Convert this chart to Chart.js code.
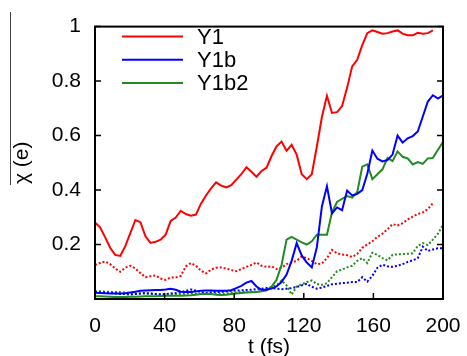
<!DOCTYPE html>
<html>
<head>
<meta charset="utf-8">
<script src="https://cdn.jsdelivr.net/npm/chart.js@4.4.0/dist/chart.umd.min.js"></script>
<style>
  html, body { margin: 0; padding: 0; background: #fff; }
</style>
</head>
<body>
<canvas id="chi" width="467" height="356"></canvas>
<script>
// time axis (fs)
const times = [0, 2.9, 5.8, 8.7, 11.6, 14.5, 17.4, 20.3, 23.2, 26.1,
  29.0, 31.9, 34.8, 37.7, 40.6, 43.5, 46.4, 49.3, 52.2, 55.1,
  58.0, 60.9, 63.8, 66.7, 69.6, 72.5, 75.4, 78.3, 81.2, 84.1,
  87.0, 89.9, 92.8, 95.7, 98.6, 101.4, 104.3, 107.2, 110.1, 113.0,
  115.9, 118.8, 121.7, 124.6, 127.5, 130.4, 133.3, 136.2, 139.1, 142.0,
  144.9, 147.8, 150.7, 153.6, 156.5, 159.4, 162.3, 165.2, 168.1, 171.0,
  173.9, 176.8, 179.7, 182.6, 185.5, 188.4, 191.3, 194.2, 197.1, 200.0];

// solid lines
const y1 = [0.281, 0.263, 0.227, 0.188, 0.162, 0.158, 0.194, 0.242, 0.290, 0.282,
  0.230, 0.206, 0.210, 0.218, 0.236, 0.287, 0.299, 0.324, 0.312, 0.306,
  0.310, 0.350, 0.380, 0.406, 0.428, 0.416, 0.410, 0.418, 0.438, 0.458,
  0.484, 0.467, 0.449, 0.470, 0.482, 0.524, 0.560, 0.578, 0.544, 0.566,
  0.530, 0.458, 0.440, 0.458, 0.560, 0.668, 0.746, 0.683, 0.686, 0.708,
  0.776, 0.854, 0.878, 0.932, 0.976, 0.986, 0.980, 0.974, 0.976, 0.982,
  0.986, 0.974, 0.968, 0.968, 0.977, 0.974, 0.976, 0.986];
const y1b = [0.023, 0.022, 0.021, 0.020, 0.020, 0.020, 0.021, 0.024, 0.027, 0.030,
  0.031, 0.032, 0.033, 0.033, 0.035, 0.038, 0.034, 0.027, 0.026, 0.026,
  0.028, 0.030, 0.031, 0.031, 0.030, 0.030, 0.030, 0.032, 0.040, 0.048,
  0.060, 0.066, 0.046, 0.034, 0.034, 0.038, 0.046, 0.062, 0.090, 0.140,
  0.205, 0.160, 0.134, 0.116, 0.190, 0.340, 0.414, 0.314, 0.336, 0.326,
  0.398, 0.380, 0.386, 0.400, 0.460, 0.545, 0.515, 0.505, 0.510, 0.530,
  0.600, 0.574, 0.590, 0.598, 0.615, 0.670, 0.725, 0.748, 0.736, 0.748];
const y1b2 = [0.010, 0.010, 0.009, 0.008, 0.007, 0.007, 0.007, 0.008, 0.008, 0.009,
  0.010, 0.010, 0.010, 0.011, 0.012, 0.012, 0.012, 0.012, 0.013, 0.014,
  0.016, 0.018, 0.019, 0.018, 0.016, 0.015, 0.016, 0.018, 0.020, 0.022,
  0.024, 0.025, 0.026, 0.028, 0.032, 0.045, 0.070, 0.125, 0.218, 0.228,
  0.218, 0.208, 0.200, 0.212, 0.236, 0.236, 0.236, 0.318, 0.356, 0.368,
  0.378, 0.372, 0.392, 0.486, 0.494, 0.440, 0.458, 0.476, 0.518, 0.506,
  0.542, 0.522, 0.516, 0.494, 0.503, 0.496, 0.516, 0.518, 0.548, 0.576];

// dotted lines
const y1Dot = [0.125, 0.132, 0.138, 0.128, 0.112, 0.100, 0.115, 0.122, 0.112, 0.095,
  0.080, 0.084, 0.086, 0.075, 0.070, 0.079, 0.079, 0.085, 0.120, 0.132,
  0.122, 0.104, 0.094, 0.108, 0.115, 0.116, 0.112, 0.106, 0.102, 0.110,
  0.118, 0.125, 0.134, 0.122, 0.118, 0.120, 0.110, 0.115, 0.128, 0.134,
  0.140, 0.156, 0.150, 0.140, 0.128, 0.130, 0.150, 0.180, 0.168, 0.163,
  0.161, 0.154, 0.165, 0.188, 0.200, 0.212, 0.228, 0.240, 0.256, 0.275,
  0.270, 0.278, 0.292, 0.302, 0.312, 0.318, 0.330, 0.352];
const y1bDot = [0.025, 0.025, 0.024, 0.022, 0.020, 0.018, 0.018, 0.016, 0.018, 0.020,
  0.022, 0.020, 0.018, 0.016, 0.018, 0.020, 0.022, 0.025, 0.030, 0.035,
  0.030, 0.025, 0.022, 0.025, 0.026, 0.026, 0.028, 0.030, 0.031, 0.032,
  0.033, 0.034, 0.036, 0.038, 0.040, 0.040, 0.038, 0.036, 0.038, 0.040,
  0.044, 0.050, 0.056, 0.045, 0.038, 0.042, 0.048, 0.054, 0.056, 0.058,
  0.060, 0.062, 0.062, 0.080, 0.064, 0.085, 0.115, 0.126, 0.120, 0.118,
  0.122, 0.128, 0.136, 0.142, 0.150, 0.192, 0.176, 0.182, 0.186, 0.186];
const y1b2Dot = [0.028, 0.028, 0.027, 0.026, 0.026, 0.025, 0.024, 0.022, 0.020, 0.020,
  0.020, 0.019, 0.018, 0.018, 0.018, 0.017, 0.017, 0.018, 0.020, 0.022,
  0.020, 0.018, 0.018, 0.018, 0.018, 0.019, 0.020, 0.022, 0.024, 0.026,
  0.026, 0.026, 0.027, 0.030, 0.035, 0.045, 0.050, 0.068, 0.050, 0.016,
  0.046, 0.054, 0.062, 0.068, 0.055, 0.052, 0.058, 0.080, 0.102, 0.108,
  0.116, 0.122, 0.140, 0.150, 0.132, 0.170, 0.162, 0.150, 0.142, 0.162,
  0.164, 0.165, 0.166, 0.168, 0.195, 0.205, 0.198, 0.218, 0.240, 0.272];

const xTicks = [0, 40, 80, 120, 160, 200];
const yTicks = [0, 0.2, 0.4, 0.6, 0.8, 1];

const RED = '#ff0000', BLUE = '#0000ff', GREEN = '#228b22';
const FONT = 'Liberation Sans, Arial, sans-serif';

function pts(vals) {
  return vals.map((v, i) => ({ x: times[i], y: v }));
}

function line(label, vals, color, dotted) {
  return {
    label: label,
    data: pts(vals),
    borderColor: color,
    borderWidth: 2,
    borderDash: dotted ? [2, 2] : [],
    pointRadius: 0,
    fill: false,
    tension: 0
  };
}

// frame, inward ticks, axis titles and legend
const decor = {
  id: 'decor',
  afterDraw(chart) {
    const { ctx, chartArea: a, scales: { x, y } } = chart;
    ctx.save();
    ctx.strokeStyle = '#000';
    ctx.lineWidth = 1.5;
    ctx.beginPath();
    yTicks.forEach(v => {
      const py = y.getPixelForValue(v);
      ctx.moveTo(a.left, py); ctx.lineTo(a.left + 6, py);
      ctx.moveTo(a.right, py); ctx.lineTo(a.right - 6, py);
    });
    xTicks.forEach(v => {
      const px = x.getPixelForValue(v);
      ctx.moveTo(px, a.bottom); ctx.lineTo(px, a.bottom - 6);
    });
    ctx.stroke();
    ctx.lineWidth = 2;
    ctx.strokeRect(a.left, a.top, a.right - a.left, a.bottom - a.top);

    ctx.fillStyle = '#000';
    ctx.textAlign = 'center';
    ctx.textBaseline = 'middle';
    ctx.font = '21px ' + FONT;
    ctx.fillText('t (fs)', (a.left + a.right) / 2, 347);

    // y title with its overbar
    ctx.save();
    ctx.translate(22, (a.top + a.bottom) / 2);
    ctx.rotate(-Math.PI / 2);
    ctx.fillText('\u03c7 (e)', 0, 0);
    ctx.restore();
    ctx.strokeStyle = '#444';
    ctx.lineWidth = 1;
    ctx.beginPath();
    ctx.moveTo(10.5, 12);
    ctx.lineTo(10.5, 185);
    ctx.stroke();

    // legend (solid series only)
    ctx.textAlign = 'left';
    ctx.font = '22px ' + FONT;
    chart.data.datasets.slice(0, 3).forEach((ds, i) => {
      const ly = 36.5 + i * 23.3;
      ctx.strokeStyle = ds.borderColor;
      ctx.lineWidth = 2;
      ctx.beginPath();
      ctx.moveTo(122, ly);
      ctx.lineTo(183, ly);
      ctx.stroke();
      ctx.fillText(ds.label, 197, ly + 1);
    });
    ctx.restore();
  }
};

Chart.defaults.color = '#000';
Chart.defaults.font.family = FONT;

new Chart(document.getElementById('chi'), {
  type: 'line',
  data: {
    datasets: [
      line('Y1', y1, RED, false),
      line('Y1b', y1b, BLUE, false),
      line('Y1b2', y1b2, GREEN, false),
      line('Y1 dotted', y1Dot, RED, true),
      line('Y1b dotted', y1bDot, BLUE, true),
      line('Y1b2 dotted', y1b2Dot, GREEN, true)
    ]
  },
  options: {
    responsive: false,
    animation: false,
    layout: { padding: { left: 0, right: 24, top: 21, bottom: 0 } },
    plugins: {
      legend: { display: false },
      tooltip: { enabled: false }
    },
    scales: {
      x: {
        type: 'linear',
        min: 0,
        max: 200,
        afterFit: s => { s.height = 57; s.paddingLeft = 0; s.paddingRight = 0; },
        afterBuildTicks: s => { s.ticks = xTicks.map(v => ({ value: v })); },
        grid: { display: false, drawTicks: false },
        border: { display: false },
        ticks: { font: { size: 21 }, padding: 15, maxRotation: 0 }
      },
      y: {
        min: 0,
        max: 1,
        afterFit: s => { s.width = 95; },
        afterBuildTicks: s => { s.ticks = yTicks.map(v => ({ value: v })); },
        grid: { display: false, drawTicks: false },
        border: { display: false },
        ticks: {
          font: { size: 21 },
          padding: 14,
          callback: v => (v === 0 ? '' : String(+v.toFixed(1)))
        }
      }
    }
  },
  plugins: [decor]
});
</script>
</body>
</html>
